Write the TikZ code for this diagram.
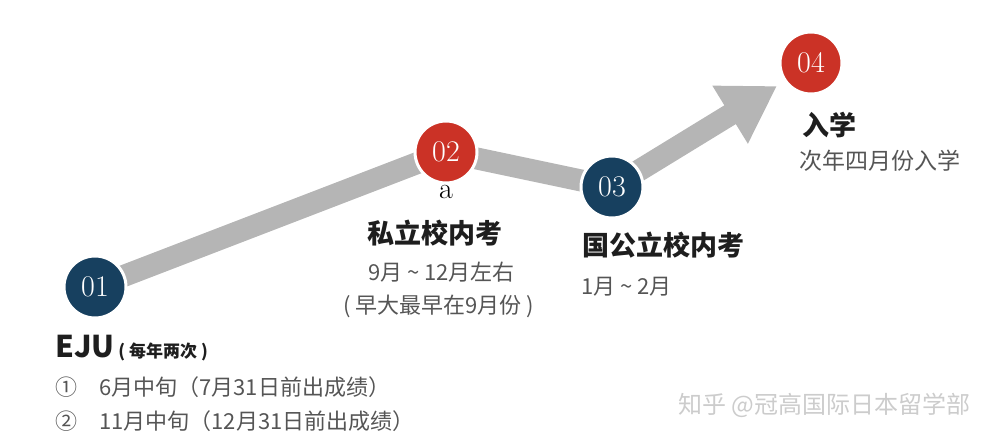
\documentclass[tikz,border=0pt]{standalone}
\usepackage{fontspec}
\usepackage{xcolor}
\usetikzlibrary{arrows.meta,backgrounds}
\newfontfamily\cjk{Noto Sans CJK SC}
\definecolor{navy}{HTML}{17405F}
\definecolor{brick}{HTML}{CB3226}
\definecolor{band}{HTML}{B5B5B5}
\definecolor{ink}{HTML}{1E1E1E}
\definecolor{soft}{HTML}{555555}
\definecolor{mark}{HTML}{CCCCCC}
\begin{document}
\begin{tikzpicture}[x=1pt,y=-1pt,
  stage/.style={circle,draw=white,line width=3pt,minimum size=62pt,inner sep=0pt,text=white,font=\fontsize{30}{30}\selectfont},
  title/.style={anchor=west,inner sep=0pt,text=ink,font=\cjk\bfseries\fontsize{27}{27}\selectfont},
  note/.style={anchor=west,inner sep=0pt,text=soft,font=\cjk\fontsize{22}{22}\selectfont},
  road/.style={line width=22pt,band}]
  \useasboundingbox (0,0) rectangle (995,446);
  \node[stage,fill=navy] (s1) at (95,287) {01};
  \node[stage,fill=brick] (s2) at (446,152) {02};
  \node[stage,fill=navy] (s3) at (612,187) {03};
  \node[stage,fill=brick] (s4) at (811,63) {04};
  \coordinate (tip) at (777,86);
  \begin{scope}[on background layer]
    \draw[road] (s1.center) -- (s2.center) -- (s3.center);
    \draw[road,-{Triangle[width=64pt,length=55pt]}] (s3.center) -- (tip);
  \end{scope}
  \node[inner sep=0pt,font=\fontsize{30}{30}\selectfont] (a) at (446,192) {a};
  \node[title] (t2) at (367,233) {私立校内考};
  \node[note] (d2a) at (368,272) {9月 \textasciitilde{} 12月左右};
  \node[note] (d2b) at (343,306) {( 早大最早在9月份 )};
  \node[title] (t3) at (582,245) {国公立校内考};
  \node[note] (d3) at (581,287) {1月 \textasciitilde{} 2月};
  \node[title] (t4) at (802,125) {入学};
  \node[note,font=\cjk\fontsize{23}{23}\selectfont] (d4) at (799,161) {次年四月份入学};
  \node[title,font=\cjk\bfseries\fontsize{30}{30}\selectfont] (t1) at (55,348) {EJU{\fontsize{17}{17}\selectfont\ ( 每年两次 )}};
  \node[note] (d1a) at (55,387) {①\quad 6月中旬（7月31日前出成绩）};
  \node[note] (d1b) at (55,421) {②\quad 11月中旬（12月31日前出成绩）};
  \node[anchor=west,inner sep=0pt,text=mark,font=\cjk\fontsize{24}{24}\selectfont] (wm) at (678,405) {知乎 @冠高国际日本留学部};
\end{tikzpicture}
\end{document}
